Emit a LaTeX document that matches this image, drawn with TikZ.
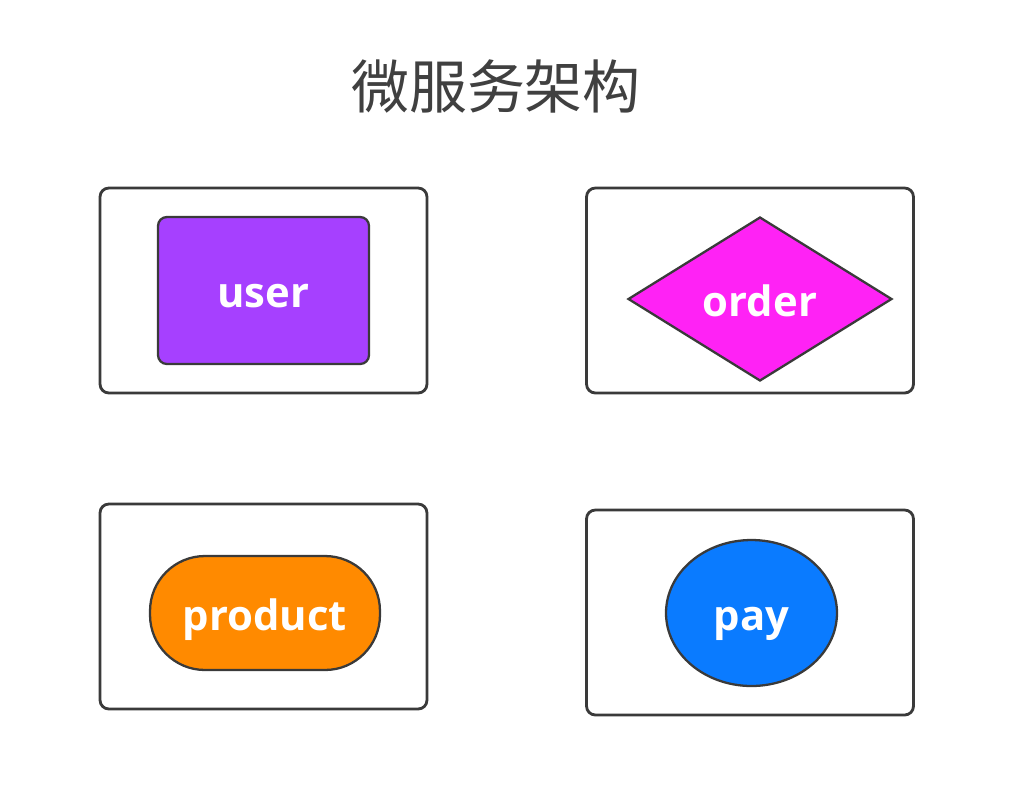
\documentclass[tikz,border=0pt]{standalone}
\usepackage{fontspec}
\setsansfont{Open Sans}
\newfontfamily\cjk{Noto Sans CJK SC}
\usepackage{tikz}
\usetikzlibrary{shapes.geometric, positioning}
\definecolor{ink}{HTML}{3A3A3A}
\definecolor{titleink}{HTML}{404040}
\definecolor{userfill}{HTML}{A640FF}
\definecolor{orderfill}{HTML}{FF22F5}
\definecolor{productfill}{HTML}{FF8A00}
\definecolor{payfill}{HTML}{0A7BFF}
\tikzset{
  frame/.style   ={draw=ink, line width=1.6pt, rounded corners=5pt, fill=white,
                   minimum width=6.54cm, minimum height=4.1cm, inner sep=0pt},
  svc/.style     ={draw=ink, line width=1.3pt, text=white, inner sep=0pt,
                   text height=0.68cm, text depth=0pt,
                   font=\sffamily\bfseries\fontsize{23.8}{28}\selectfont},
  svcuser/.style ={svc, fill=userfill, rounded corners=5pt,
                   minimum width=4.22cm, minimum height=2.94cm},
  svcorder/.style={svc, fill=orderfill, diamond, aspect=1.6,
                   minimum width=5.28cm, minimum height=3.28cm},
  svcprod/.style ={svc, fill=productfill, rounded corners=1.1cm,
                   minimum width=4.6cm, minimum height=2.28cm},
  svcpay/.style  ={svc, fill=payfill, ellipse,
                   minimum width=3.42cm, minimum height=2.92cm},
  heading/.style ={text=titleink, font=\cjk\fontsize{33}{40}\selectfont}
}
\begin{document}
\begin{tikzpicture}[x=0.02cm, y=-0.02cm]
  \useasboundingbox[fill=white] (0,0) rectangle (1011,796);

  \node[heading] (title) at (496,86) {微服务架构};

  % outer frames
  \node[frame] (fuser)  at (263.5,290.5) {};
  \node[frame] (forder) at (750,290.5)   {};
  \node[frame] (fprod)  at (263.5,606.5) {};
  \node[frame] (fpay)   at (750,612.5)   {};

  % services
  \node[svcuser]  (user)    at (fuser)         {user};
  \node[svcorder] (order)   at (760,299)       {order};
  \node[svcprod]  (product) at (265,613)       {product};
  \node[svcpay]   (pay)     at (751.5,613)     {pay};
\end{tikzpicture}
\end{document}
